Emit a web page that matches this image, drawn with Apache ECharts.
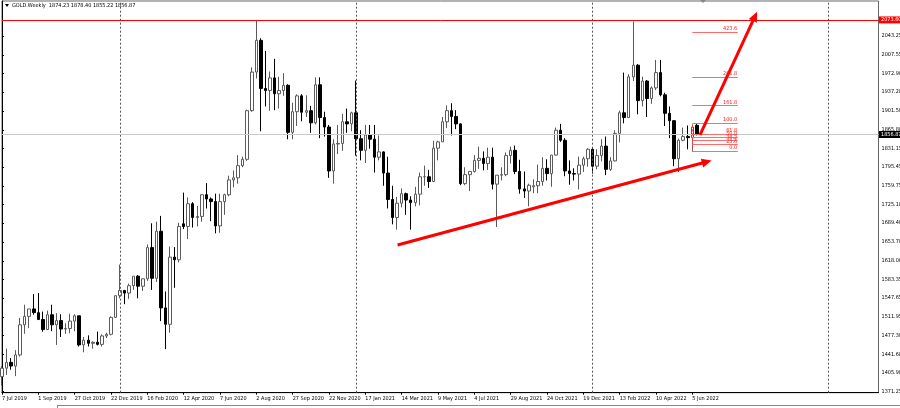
<!DOCTYPE html>
<html><head><meta charset="utf-8">
<script src="https://cdn.jsdelivr.net/npm/echarts@6/dist/echarts.min.js"></script>
<style>html,body{margin:0;padding:0;background:#fff}#c{width:900px;height:408px}</style>
</head><body><div id="c"></div>
<script>
// ---- data (GOLD weekly, week of 7 Jul 2019 .. week of 12 Jun 2022) ----
const xTickLabels = ['7 Jul 2019','1 Sep 2019','27 Oct 2019','22 Dec 2019','16 Feb 2020','12 Apr 2020','7 Jun 2020','2 Aug 2020','27 Sep 2020','22 Nov 2020','17 Jan 2021','14 Mar 2021','9 May 2021','4 Jul 2021','29 Aug 2021','24 Oct 2021','19 Dec 2021','13 Feb 2022','10 Apr 2022','5 Jun 2022'];
const xTickStep = 8;
const slotCount = 194;
const open  = [1399,1415,1426,1419,1440,1497,1513,1527,1520,1507,1488,1516,1497,1505,1489,1490,1504,1514,1459,1468,1462,1464,1460,1476,1479,1511,1552,1562,1557,1571,1589,1570,1584,1643,1585,1674,1529,1498,1625,1620,1688,1683,1726,1700,1702,1743,1735,1730,1684,1730,1743,1771,1775,1798,1810,1902,1975,2035,1944,1940,1964,1934,1940,1950,1861,1900,1930,1899,1902,1879,1951,1889,1871,1788,1839,1840,1881,1877,1898,1849,1827,1856,1848,1814,1824,1784,1734,1700,1727,1745,1733,1728,1744,1777,1777,1768,1831,1843,1881,1902,1891,1877,1764,1781,1787,1808,1812,1802,1814,1763,1780,1781,1817,1827,1787,1754,1750,1758,1760,1768,1793,1783,1818,1865,1846,1788,1783,1782,1799,1811,1829,1797,1817,1835,1791,1807,1859,1898,1889,1966,1988,1921,1958,1925,1945,1974,1932,1897,1883,1811,1846,1853,1851,1874.23];
const high  = [1419,1452,1434,1449,1510,1535,1527,1555,1557,1522,1524,1535,1519,1517,1500,1518,1517,1514,1474,1477,1466,1484,1479,1482,1513,1553,1611,1563,1575,1589,1591,1584,1649,1689,1692,1703,1560,1645,1644,1690,1747,1738,1729,1722,1744,1765,1738,1745,1745,1745,1779,1789,1818,1815,1904,1984,2073.6,2039,2015,1976,2000,1966,1973,1952,1917,1933,1933,1931,1911,1965,1965,1900,1875,1848,1875,1896,1906,1900,1959,1865,1875,1875,1875,1855,1825,1815,1760,1739,1755,1747,1740,1758,1785,1798,1790,1845,1845,1890,1912,1916,1903,1878,1795,1788,1818,1834,1825,1832,1832,1780,1795,1823,1834,1836,1809,1787,1764,1772,1800,1814,1810,1818,1870,1877,1850,1808,1793,1815,1815,1831,1831,1829,1848,1853,1814,1865,1902,1974,1971,2070.4,1990,1966,1960,1948,1998,1998,1936,1910,1884,1849,1870,1874,1876,1878.40];
const low   = [1382,1402,1412,1400,1437,1480,1491,1516,1506,1484,1487,1485,1459,1474,1480,1481,1485,1456,1445,1456,1452,1458,1456,1472,1477,1510,1547,1536,1546,1563,1547,1561,1580,1563,1578,1504,1451,1482,1567,1615,1678,1659,1681,1683,1692,1717,1693,1670,1671,1705,1740,1757,1764,1795,1807,1900,1963,1863,1910,1902,1903,1906,1930,1848,1848,1873,1882,1890,1860,1876,1850,1853,1775,1764,1820,1826,1860,1863,1817,1808,1803,1830,1785,1808,1760,1717,1687,1677,1719,1705,1677,1721,1723,1760,1756,1767,1808,1843,1869,1855,1867,1761,1761,1750,1785,1792,1789,1790,1753,1682,1770,1778,1802,1782,1745,1737,1721,1746,1746,1760,1770,1758,1817,1843,1778,1762,1770,1753,1786,1796,1783,1791,1806,1780,1788,1806,1842,1878,1889,1958,1895,1910,1890,1915,1941,1929,1873,1850,1797,1786,1844,1829,1825,1855.22];
const close = [1415,1426,1419,1440,1497,1513,1527,1520,1507,1488,1516,1497,1505,1489,1490,1504,1514,1459,1468,1462,1464,1460,1476,1479,1511,1552,1562,1557,1571,1589,1570,1584,1643,1585,1674,1529,1498,1625,1620,1683,1683,1726,1700,1702,1743,1735,1730,1684,1730,1743,1771,1775,1798,1810,1902,1975,2035,1944,1940,1964,1934,1940,1950,1861,1900,1930,1899,1902,1879,1951,1889,1871,1788,1839,1840,1881,1877,1898,1849,1827,1856,1848,1814,1824,1784,1734,1700,1727,1745,1733,1728,1744,1777,1777,1768,1831,1843,1881,1902,1891,1877,1764,1781,1787,1808,1812,1802,1814,1763,1780,1781,1817,1827,1787,1754,1750,1761,1760,1768,1793,1783,1818,1865,1846,1788,1783,1782,1799,1811,1829,1797,1817,1835,1791,1807,1859,1898,1889,1966,1988,1921,1958,1925,1945,1974,1932,1897,1883,1811,1846,1853,1851,1871,1856.87];
const yTickValues = [2043.25,2007.55,1972.90,1937.20,1901.50,1865.80,1831.15,1795.45,1759.75,1725.10,1689.40,1653.70,1618.00,1583.35,1547.65,1511.95,1477.30,1441.60,1405.90,1371.25];
const yMin = 1368.6, yMax = 2109.4;
const resistance = 2073.60;
const lastPrice = 1856.87;
const yearSeparators = [26, 78, 130, 182];
const fibLevels = [0, 23.6, 38.2, 50.0, 61.8, 100.0, 161.8, 261.8, 423.6];
const fibLow = 1825.0, fibHigh = 1878.40, fibFrom = 152, fibTo = 162;
const arrowTrend = [[87.1, 1648], [155.2, 1805.3]];
const arrowTarget = [[153.7, 1856], [165.8, 2080.5]];
const titleText = 'GOLD.Weekly  1874.23 1878.40 1855.22 1856.87';

// ---- chart ----
const FONT = "'DejaVu Sans Condensed','Liberation Sans Narrow','Liberation Sans',sans-serif";
const categories = Array.from({length: slotCount}, (_, i) => String(i));
const ohlc = open.map((o, i) => [o, close[i], low[i], high[i]]);
const isTick = i => i % xTickStep === 0 && i / xTickStep < xTickLabels.length;

const fibLines = fibLevels.map(l => {
  const p = fibLow + (fibHigh - fibLow) * l / 100;
  return [
    {coord: [fibFrom, p]},
    {coord: [fibTo, p], label: {show: true, position: 'insideEndTop', formatter: l.toFixed(1), color: '#ff2020', fontSize: 5.5, fontFamily: FONT, distance: 0.5}}
  ];
});

const chart = echarts.init(document.getElementById('c'), null, {renderer: 'canvas'});
chart.setOption({
  animation: false,
  backgroundColor: '#ffffff',
  grid: {left: 2, right: 21.5, top: 1, bottom: 15.3, show: true, borderColor: '#666', borderWidth: 1, backgroundColor: '#fff', containLabel: false, outerBoundsMode: 'none'},
  xAxis: [{
    type: 'category', data: categories, boundaryGap: false,
    axisLine: {lineStyle: {color: '#000'}},
    axisTick: {show: true, length: 2, interval: (i) => isTick(i), lineStyle: {color: '#000'}},
    axisLabel: {interval: (i) => isTick(i), formatter: (v) => { const i = Number(v); return isTick(i) ? xTickLabels[i / xTickStep] : ''; },
      align: 'left', margin: 3, fontSize: 5.5, color: '#000', fontFamily: FONT, hideOverlap: false},
    splitLine: {show: false}
  }, {
    type: 'value', min: 0, max: slotCount - 1, show: false
  }],
  yAxis: {
    type: 'value', position: 'right', min: yMin, max: yMax, scale: true,
    axisLine: {show: true, lineStyle: {color: '#000'}},
    axisTick: {show: true, length: 2, customValues: yTickValues, lineStyle: {color: '#000'}},
    axisLabel: {customValues: yTickValues, formatter: v => v.toFixed(2), margin: 3, fontSize: 5.5, color: '#000', fontFamily: FONT},
    splitLine: {show: false}
  },
  series: [{
    type: 'candlestick', xAxisIndex: 0, data: ohlc, barWidth: 3,
    itemStyle: {color: '#ffffff', borderColor: '#5a5a5a', color0: '#000000', borderColor0: '#000000', borderWidth: 1},
    silent: true
  }, {
    type: 'scatter', xAxisIndex: 1, data: [[0, lastPrice]], symbolSize: 0, silent: true,
    markLine: {
      silent: true, symbol: ['none', 'none'], animation: false,
      label: {show: false},
      data: [
        ...yearSeparators.map(x => ({xAxis: x, lineStyle: {type: [2, 2], color: '#555', width: 1}})),
        {yAxis: lastPrice, lineStyle: {type: 'solid', color: '#c8c8c8', width: 1},
          label: {show: true, position: 'end', distance: 0.5, formatter: lastPrice.toFixed(2), color: '#fff', backgroundColor: '#000', padding: [1, 3, 0, 2], fontSize: 5.5, fontFamily: FONT}},
        {yAxis: resistance, lineStyle: {type: 'solid', color: '#ff0000', width: 1},
          label: {show: true, position: 'end', distance: 0.5, formatter: resistance.toFixed(2), color: '#fff', backgroundColor: '#ff0000', padding: [1, 3, 0, 2], fontSize: 5.5, fontFamily: FONT}},
        ...fibLines.map(l => [Object.assign({lineStyle: {type: 'solid', color: '#ff6a6a', width: 1}}, l[0]), l[1]]),
        [{coord: [fibFrom, fibLow], lineStyle: {type: [2, 2], color: '#ff4040', width: 1}}, {coord: [fibFrom, fibHigh]}],
        [{coord: arrowTrend[0], lineStyle: {type: 'solid', color: '#ff0000', width: 3}}, {coord: arrowTrend[1], symbol: 'triangle', symbolSize: [9, 10]}],
        [{coord: arrowTarget[0], lineStyle: {type: 'solid', color: '#ff0000', width: 3}}, {coord: arrowTarget[1], symbol: 'triangle', symbolSize: [9, 10]}]
      ]
    }
  }],
  graphic: [
    {type: 'polygon', shape: {points: [[5, 4], [9, 4], [7, 7]]}, style: {fill: '#000'}},
    {type: 'text', left: 12, top: 2.5, style: {text: titleText, font: "5.5px " + FONT, fill: '#000'}},
    {type: 'polygon', shape: {points: [[700, 0], [706, 0], [703, 3]]}, style: {fill: '#888'}},
    {type: 'line', shape: {x1: 57, y1: 405.5, x2: 900, y2: 405.5}, style: {stroke: '#888', lineWidth: 1}},
    {type: 'line', shape: {x1: 57.5, y1: 405.5, x2: 57.5, y2: 408}, style: {stroke: '#888', lineWidth: 1}}
  ]
});
</script></body></html>
